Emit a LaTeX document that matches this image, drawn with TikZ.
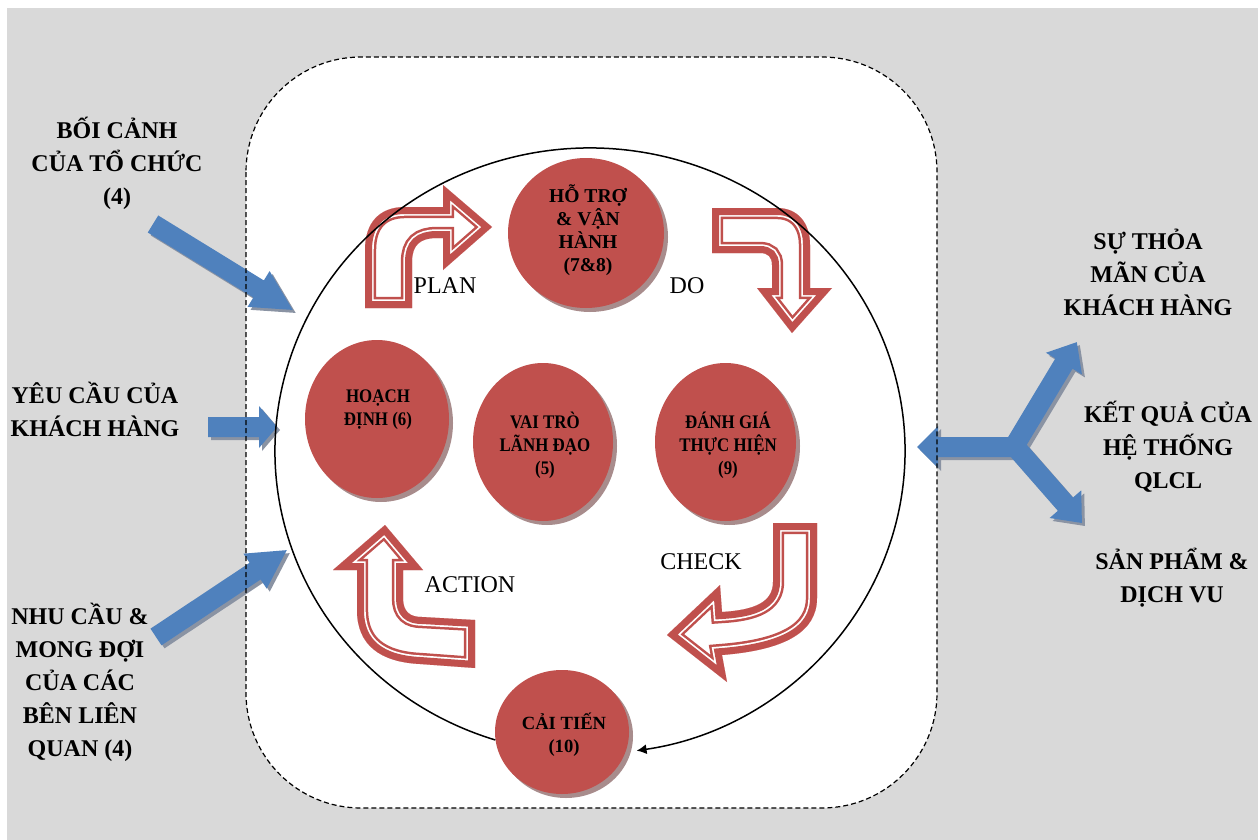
\documentclass[tikz,border=0pt]{standalone}
\usepackage{fontspec}
\setmainfont{Liberation Serif}
\newfontfamily\cfont[FakeStretch=0.88]{Liberation Serif}
\usetikzlibrary{shapes.geometric,arrows.meta,shadows}
\definecolor{bg}{HTML}{D9D9D9}
\definecolor{cred}{HTML}{C0504D}
\definecolor{cblue}{HTML}{4F81BD}
\definecolor{bshadow}{HTML}{8A93A3}
\definecolor{rshadow}{HTML}{A88C8C}
% block arrow: style, tail x, tail y, angle, length, head length
\newcommand\barrow[6]{\fill[#1,shift={(#2,#3)},rotate=#4] (0,-10) -- (#5-#6,-10) -- (#5-#6,-21) -- (#5,0) -- (#5-#6,21) -- (#5-#6,10) -- (0,10) -- cycle;}
% outlined bent arrow
\newcommand\outarrow[1]{\fill[white] #1;
 \begin{scope}\clip #1;
  \draw[cred,line width=11.2pt,miter limit=20] #1;
  \draw[white,line width=8.7pt,miter limit=20] #1;
  \draw[cred,line width=7pt,miter limit=20] #1;
 \end{scope}}
\tikzset{
 outer/.style={font=\bfseries\fontsize{12}{16.5}\selectfont, align=center, inner sep=0pt},
 ctext/.style={font=\cfont\bfseries\fontsize{9.6}{11.5}\selectfont, align=center, inner sep=0pt},
 pdcalbl/.style={font=\fontsize{12}{14}\selectfont, inner sep=0pt},
 circ/.style={ellipse, fill=cred, inner sep=0pt, drop shadow={shadow xshift=2pt, shadow yshift=-2pt, fill=rshadow, opacity=1}},
 boundary/.style={draw=black, line width=0.6pt, dash pattern=on 2.5pt off 1.5pt},
}
\begin{document}
\begin{tikzpicture}[x=0.5pt,y=-0.5pt]
\useasboundingbox (0,0) rectangle (1258,840);
\fill[white] (0,0) rectangle (1258,840);
\fill[bg] (7,8) rectangle (1258,840);
% organisation boundary (white area)
\fill[white, rounded corners=57.5pt] (246,57) rectangle (937,808);

% blue input / output arrows: shadows then fills
\barrow{bshadow}{156}{227}{-31.6}{164}{40}
\barrow{bshadow}{211}{430}{0}{69}{18}
\barrow{bshadow}{159}{640}{33.6}{157}{38}
\barrow{bshadow}{1028}{450}{180}{108}{21}
\barrow{bshadow}{1018}{448}{59}{120}{25}
\barrow{bshadow}{1021}{453}{-48.8}{97}{25}
\barrow{cblue}{153}{224}{-31.6}{164}{40}
\barrow{cblue}{208}{427}{0}{69}{18}
\barrow{cblue}{156}{637}{33.6}{157}{38}
\barrow{cblue}{1025}{447}{180}{108}{21}
\barrow{cblue}{1015}{445}{59}{120}{25}
\barrow{cblue}{1018}{450}{-48.8}{97}{25}

\draw[boundary, rounded corners=57.5pt] (246,57) rectangle (937,808);

% PDCA bent arrows
\outarrow{(365,308) -- (365,250) .. controls (365,222) and (380,207) .. (405,207) -- (443,207) -- (443,185) -- (492,227) -- (443,270) -- (443,238) -- (437,238) .. controls (420,238) and (412,245) .. (412,262) -- (412,308) -- cycle}
\outarrow{(712,208) -- (777,208) .. controls (797,208) and (810,222) .. (810,245) -- (810,288) -- (832,288) -- (792,333) -- (757,288) -- (772,288) -- (772,265) .. controls (772,257) and (768,253) .. (760,253) -- (712,253) -- cycle}
\outarrow{(773,523) -- (817,523) -- (817,598) .. controls (817,632) and (785,650) .. (722,655) -- (727,682) -- (667,635) -- (720,585) -- (722,612) .. controls (755,610) and (773,602) .. (773,582) -- cycle}
\outarrow{(357,570) -- (333,570) -- (385,525) -- (423,570) -- (403,570) -- (403,598) .. controls (403,612) and (410,617) .. (422,617) -- (475,620) -- (475,668) -- (420,664) .. controls (380,662) and (357,645) .. (357,610) -- cycle}

% clause circles
\node[circ, minimum width=78pt, minimum height=75pt] (hotro) at (586,233) {};
\node[circ, minimum width=72pt, minimum height=79pt] (hoach) at (377,419) {};
\node[circ, minimum width=70pt, minimum height=79pt] (vaitro) at (543,442) {};
\node[circ, minimum width=70.5pt, minimum height=79pt] (danhgia) at (725.5,442) {};
\node[circ, minimum width=67pt, minimum height=62pt] (caitien) at (562,732) {};

% PDCA cycle line
\draw[line width=0.75pt, -{Latex[length=5pt,width=5pt]}] (590,451) ++(107.5:315 and 303) arc[start angle=107.5, end angle=441.5, x radius=315, y radius=303];

% circle texts
\node[ctext, font=\bfseries\fontsize{9.8}{11.5}\selectfont] (hotrot) at (588,230) {HỖ TRỢ\\\& VẬN\\HÀNH\\(7\&8)};
\node[ctext] (hoacht) at (378,410) {HOẠCH\\ĐỊNH (6)};
\node[ctext] (vaitrot) at (545,445) {VAI TRÒ\\LÃNH ĐẠO\\(5)};
\node[ctext] (danhgiat) at (728,445) {ĐÁNH GIÁ\\THỰC HIỆN\\(9)};
\node[ctext, font=\bfseries\fontsize{9.3}{11.5}\selectfont] (caitient) at (564,735) {CẢI TIẾN\\(10)};

% PDCA labels
\node[pdcalbl] (plan) at (445,286) {PLAN};
\node[pdcalbl] (do) at (687,286) {DO};
\node[pdcalbl] (check) at (701,562) {CHECK};
\node[pdcalbl] (action) at (470,585) {ACTION};

% outside labels
\node[outer] (boicanh) at (117,163) {BỐI CẢNH\\CỦA TỔ CHỨC\\(4)};
\node[outer] (yeucau) at (95,409) {YÊU CẦU CỦA\\KHÁCH HÀNG};
\node[outer] (nhucau) at (80,682) {NHU CẦU \&\\MONG ĐỢI\\CỦA CÁC\\BÊN LIÊN\\QUAN (4)};
\node[outer] (suthoa) at (1148,272) {SỰ THỎA\\MÃN CỦA\\KHÁCH HÀNG};
\node[outer] (ketqua) at (1168,447) {KẾT QUẢ CỦA\\HỆ THỐNG\\QLCL};
\node[outer] (sanpham) at (1172,578) {SẢN PHẨM \&\\DỊCH VU};
\end{tikzpicture}
\end{document}
